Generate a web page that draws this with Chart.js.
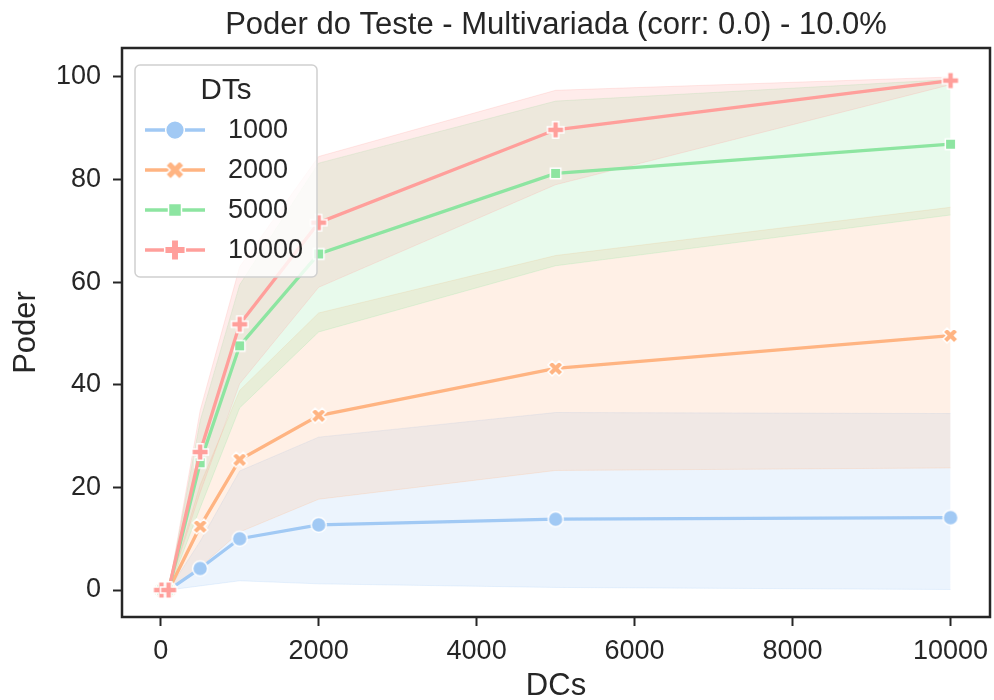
<!DOCTYPE html>
<html>
<head>
<meta charset="utf-8">
<script src="https://cdn.jsdelivr.net/npm/chart.js@4.4.1/dist/chart.umd.min.js"></script>
<style>
  html, body { margin: 0; padding: 0; background: #fff; }
  canvas { display: block; }
</style>
</head>
<body>
<canvas id="chart1" width="994" height="700"></canvas>
<script>
const chartTitle = "Poder do Teste - Multivariada (corr: 0.0) - 10.0%";
const legendTitle = "DTs";
const dcs = [10, 100, 500, 1000, 2000, 5000, 10000];
const dtLabels = ["1000", "2000", "5000", "10000"];
const xTicks = [0, 2000, 4000, 6000, 8000, 10000];
const yTicks = [0, 20, 40, 60, 80, 100];

// mean power and confidence band for each DT
const power1000 = [0, 0, 4.2, 10.0, 12.7, 13.8, 14.1];
const low1000 = [0, 0, 0.8, 1.8, 1.2, 0.5, 0.1];
const high1000 = [0, 0, 9.5, 23.2, 29.8, 34.6, 34.4];

const power2000 = [0, 0, 12.4, 25.4, 34.0, 43.2, 49.6];
const low2000 = [0, 0, 4.5, 11.3, 17.7, 23.3, 23.8];
const high2000 = [0, 0, 20.5, 38.9, 54.0, 65.2, 74.6];

const power5000 = [0, 0, 24.8, 47.6, 65.5, 81.2, 86.9];
const low5000 = [0, 0, 16.0, 35.5, 50.3, 63.2, 73.1];
const high5000 = [0, 0, 33.0, 59.5, 83.2, 95.3, 99.5];

const power10000 = [0, 0, 26.9, 51.8, 71.6, 89.7, 99.3];
const low10000 = [0, 0, 19.0, 40.2, 59.0, 79.0, 98.5];
const high10000 = [0, 0, 35.0, 63.0, 84.5, 97.4, 100];

const ink = "#262626";
const fontFamily = '"Liberation Sans", Arial, sans-serif';

const series = [
  { label: dtLabels[0], mean: power1000, low: low1000, high: high1000, rgb: [161, 201, 244], shape: "circle" },
  { label: dtLabels[1], mean: power2000, low: low2000, high: high2000, rgb: [255, 180, 130], shape: "x" },
  { label: dtLabels[2], mean: power5000, low: low5000, high: high5000, rgb: [141, 229, 161], shape: "square" },
  { label: dtLabels[3], mean: power10000, low: low10000, high: high10000, rgb: [255, 159, 155], shape: "plus" },
];

function rgba(rgb, a) {
  return `rgba(${rgb[0]}, ${rgb[1]}, ${rgb[2]}, ${a})`;
}

function toXY(values) {
  return values.map((v, i) => ({ x: dcs[i], y: v }));
}

// seaborn-like filled markers with a white edge
function makeMarker(shape, rgb, size, edge) {
  const s = Math.ceil(size * 1.5 + 2 * edge + 2);
  const c = document.createElement("canvas");
  c.width = s;
  c.height = s;
  const ctx = c.getContext("2d");
  ctx.translate(s / 2, s / 2);
  ctx.beginPath();
  const r = size / 2;
  if (shape === "circle") {
    ctx.arc(0, 0, r, 0, 2 * Math.PI);
  } else if (shape === "square") {
    const h = r * 0.8;
    ctx.rect(-h, -h, 2 * h, 2 * h);
  } else {
    const w = r * 0.36;
    const pts = [[-w, -r], [w, -r], [w, -w], [r, -w], [r, w], [w, w], [w, r], [-w, r], [-w, w], [-r, w], [-r, -w], [-w, -w]];
    if (shape === "x") ctx.rotate(Math.PI / 4);
    pts.forEach((p, i) => (i === 0 ? ctx.moveTo(p[0], p[1]) : ctx.lineTo(p[0], p[1])));
    ctx.closePath();
  }
  ctx.fillStyle = rgba(rgb, 1);
  ctx.fill();
  ctx.lineWidth = edge;
  ctx.strokeStyle = "#ffffff";
  ctx.stroke();
  return c;
}

const markerSize = { circle: 15, x: 15.5, square: 13, plus: 16.5 };

const lineSets = series.map((s, i) => ({
  label: s.label,
  data: toXY(s.mean),
  borderColor: rgba(s.rgb, 1),
  backgroundColor: rgba(s.rgb, 1),
  borderWidth: 3.3,
  pointStyle: makeMarker(s.shape, s.rgb, markerSize[s.shape], 1.5),
  pointRadius: 8,
  fill: false,
  tension: 0,
  order: 4 - i,
}));

const legendMarkers = series.map((s) => makeMarker(s.shape, s.rgb, markerSize[s.shape] * 1.25, 1.5));

const bandSets = [];
series.forEach((s, i) => {
  bandSets.push({
    label: s.label + " low",
    data: toXY(s.low),
    borderColor: rgba(s.rgb, 0.22),
    borderWidth: 1,
    pointRadius: 0,
    fill: false,
    order: 20 - i,
  });
  bandSets.push({
    label: s.label + " high",
    data: toXY(s.high),
    borderColor: rgba(s.rgb, 0.22),
    backgroundColor: rgba(s.rgb, 0.2),
    borderWidth: 1,
    pointRadius: 0,
    fill: "-1",
    order: 20 - i,
  });
});

const frameAndLegend = {
  id: "frameAndLegend",
  afterDraw(chart) {
    const { ctx, chartArea: a } = chart;
    ctx.save();
    ctx.strokeStyle = ink;
    ctx.lineWidth = 2.5;
    ctx.strokeRect(a.left, a.top, a.right - a.left, a.bottom - a.top);

    ctx.fillStyle = ink;
    ctx.font = `31px ${fontFamily}`;
    ctx.textAlign = "center";
    ctx.textBaseline = "middle";
    ctx.fillText(chartTitle, (a.left + a.right) / 2, 25);

    // legend box in the upper left corner
    ctx.beginPath();
    ctx.roundRect(135, 65, 182, 212, 5);
    ctx.fillStyle = "rgba(255, 255, 255, 0.8)";
    ctx.fill();
    ctx.strokeStyle = "#d0d0d0";
    ctx.lineWidth = 1.5;
    ctx.stroke();

    ctx.fillStyle = ink;
    ctx.font = `29.5px ${fontFamily}`;
    ctx.fillText(legendTitle, 226, 91);

    ctx.font = `27px ${fontFamily}`;
    ctx.textAlign = "left";
    series.forEach((s, i) => {
      const y = 130 + 40 * i;
      ctx.beginPath();
      ctx.moveTo(145, y);
      ctx.lineTo(205, y);
      ctx.strokeStyle = rgba(s.rgb, 1);
      ctx.lineWidth = 3.3;
      ctx.stroke();
      const m = legendMarkers[i];
      ctx.drawImage(m, 175 - m.width / 2, y - m.height / 2);
      ctx.fillStyle = ink;
      ctx.fillText(s.label, 228, y + 1);
    });
    ctx.restore();
  },
};

const ctx1 = document.getElementById("chart1").getContext("2d");
const chart1 = new Chart(ctx1, {
  type: "line",
  data: { datasets: [...lineSets, ...bandSets] },
  options: {
    responsive: false,
    animation: false,
    layout: { autoPadding: false, padding: { left: 0, right: 4, top: 48, bottom: 0 } },
    plugins: {
      legend: { display: false },
      title: { display: false },
      tooltip: { enabled: false },
    },
    scales: {
      x: {
        type: "linear",
        min: -489.5,
        max: 10499.5,
        afterBuildTicks: (scale) => {
          scale.ticks = xTicks.map((v) => ({ value: v }));
        },
        afterFit: (scale) => {
          scale.height = 83;
          scale.paddingLeft = 0;
          scale.paddingRight = 0;
        },
        ticks: {
          color: ink,
          font: { family: fontFamily, size: 27 },
          padding: 9,
          maxRotation: 0,
          autoSkip: false,
          callback: (v) => String(v),
        },
        grid: { drawOnChartArea: false, drawTicks: true, tickLength: 9, tickWidth: 2, tickColor: ink },
        border: { display: false },
        title: {
          display: true,
          text: "DCs",
          color: ink,
          font: { family: fontFamily, size: 31, lineHeight: 0.85 },
          padding: 0,
        },
      },
      y: {
        type: "linear",
        min: -5.26,
        max: 105.65,
        afterBuildTicks: (scale) => {
          scale.ticks = yTicks.map((v) => ({ value: v }));
        },
        afterFit: (scale) => {
          scale.width = 122;
          scale.paddingTop = 0;
          scale.paddingBottom = 0;
        },
        ticks: {
          color: ink,
          font: { family: fontFamily, size: 27 },
          padding: 12,
          autoSkip: false,
          callback: (v) => String(v),
        },
        grid: { drawOnChartArea: false, drawTicks: true, tickLength: 9, tickWidth: 2, tickColor: ink },
        border: { display: false },
        title: {
          display: true,
          text: "Poder",
          color: ink,
          font: { family: fontFamily, size: 31, lineHeight: 1 },
          padding: { top: 11, bottom: 0 },
        },
      },
    },
  },
  plugins: [frameAndLegend],
});
</script>
</body>
</html>
